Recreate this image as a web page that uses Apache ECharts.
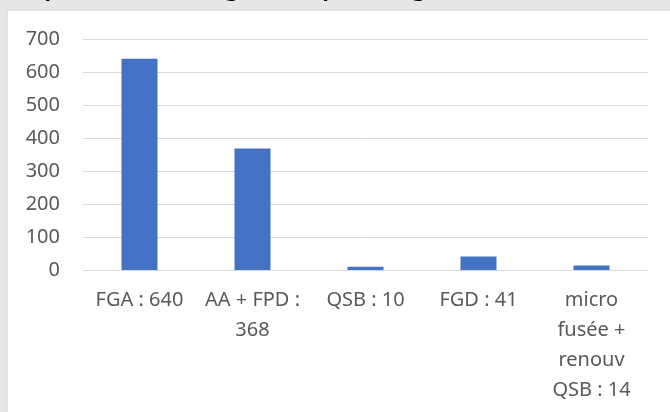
<!DOCTYPE html>
<html>
<head>
<meta charset="utf-8">
<script src="https://cdn.jsdelivr.net/npm/echarts@6/dist/echarts.min.js"></script>
<style>
  html, body { margin: 0; padding: 0; background: #e7e7e7; }
  #chart { width: 670px; height: 412px; }
</style>
</head>
<body>
<div id="chart"></div>
<script>
// catégories (les retours à la ligne suivent le graphique d'origine)
const categories = ['FGA : 640', 'AA + FPD :\n368', 'QSB : 10', 'FGD : 41', 'micro\nfusée +\nrenouv\nQSB : 14']
const values = [640, 368, 10, 41, 14]
const yTicks = [0, 100, 200, 300, 400, 500, 600, 700]

let Mycharts = echarts.init(document.getElementById('chart'))
let option = {
    backgroundColor: '#e7e7e7',
    animation: false,
    textStyle: {
        fontFamily: 'Noto Sans'
    },
    title: {
        text: 'Répartition des diagnostics par catégorie',
        left: 12,
        top: -26,
        textStyle: {
            fontFamily: 'Noto Sans',
            fontWeight: 'bold',
            fontSize: 22,
            color: '#000'
        }
    },
    graphic: [{
        type: 'rect',
        z: -10,
        shape: { x: 7, y: 10, width: 680, height: 420 },
        style: { fill: '#fff', stroke: '#d2d2d2', lineWidth: 1 }
    }],
    grid: {
        top: 39,
        left: 83,
        right: 22,
        bottom: 142
    },
    xAxis: {
        type: 'category',
        data: categories,
        axisTick: { show: false },
        axisLine: { show: false },
        axisLabel: {
            interval: 0,
            margin: 15,
            fontSize: 20,
            lineHeight: 30,
            color: '#595959'
        }
    },
    yAxis: {
        type: 'value',
        min: yTicks[0],
        max: yTicks[yTicks.length - 1],
        interval: 100,
        axisTick: { show: false },
        axisLine: { show: false },
        axisLabel: {
            margin: 23,
            fontSize: 20,
            color: '#595959'
        },
        splitLine: {
            lineStyle: { color: '#d9d9d9', width: 1 }
        }
    },
    series: [{
        type: 'bar',
        data: values,
        barWidth: 36,
        itemStyle: { color: '#4472c4' }
    }]
}
Mycharts.setOption(option)
</script>
</body>
</html>
